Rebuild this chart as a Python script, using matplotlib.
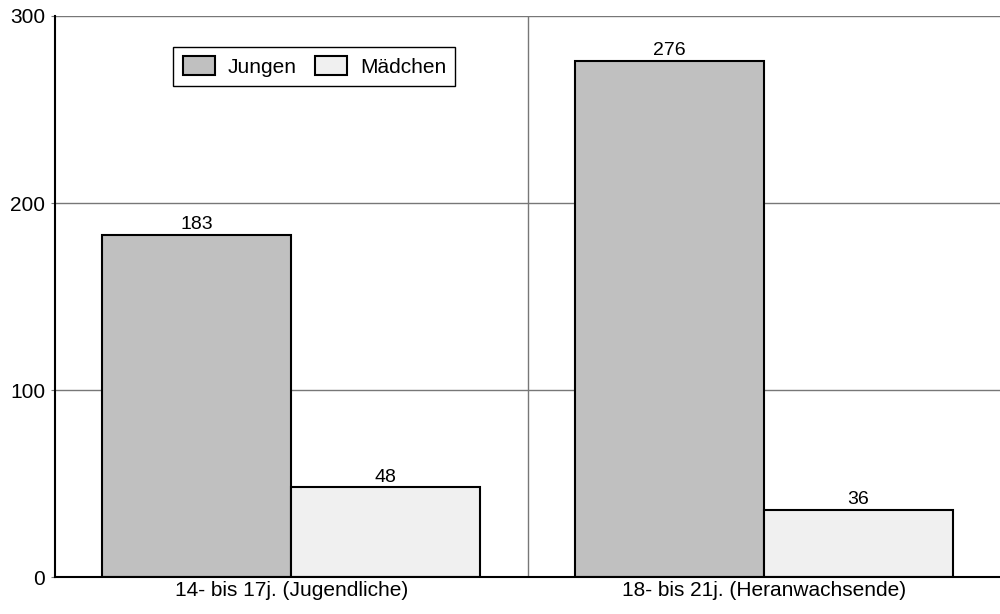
import numpy as np
import matplotlib
matplotlib.use("Agg")
import matplotlib.pyplot as plt

categories = ["14- bis 17j. (Jugendliche)", "18- bis 21j. (Heranwachsende)"]
series_names = ["Jungen", "Mädchen"]
jungen = [183, 276]
maedchen = [48, 36]
y_ticks = [0, 100, 200, 300]

plt.rcParams['font.family'] = ['Liberation Sans', 'DejaVu Sans']

fig = plt.figure(figsize=(10, 6.14), dpi=100)
ax = fig.add_axes([0.055, 0.06, 0.945, 0.914])

x = np.arange(len(categories))
w = 0.4
b1 = ax.bar(x - w / 2, jungen, w, color="#c0c0c0", edgecolor="black", linewidth=1.5,
            label=series_names[0], zorder=3)
b2 = ax.bar(x + w / 2, maedchen, w, color="#f0f0f0", edgecolor="black", linewidth=1.5,
            label=series_names[1], zorder=3)
for bars in (b1, b2):
    ax.bar_label(bars, padding=1, fontsize=14)

ax.set_xlim(-0.5, len(categories) - 0.5)
ax.set_ylim(0, 300)
ax.set_yticks(y_ticks)
ax.set_xticks(x)
ax.set_xticklabels(categories)
ax.tick_params(axis="x", length=0, labelsize=15, pad=3)
ax.tick_params(axis="y", length=3, labelsize=15, pad=4, color="#777777")

ax.yaxis.grid(True, color="#777777", linewidth=1, zorder=0)
for sep in x[:-1] + 0.5:
    ax.axvline(sep, color="#777777", linewidth=1, zorder=0)

for side in ("top", "right"):
    ax.spines[side].set_visible(False)
for side in ("left", "bottom"):
    ax.spines[side].set_linewidth(1.5)
    ax.spines[side].set_zorder(4)

leg = ax.legend(loc="upper left", bbox_to_anchor=(0.125, 0.945), borderaxespad=0,
                ncol=2, fontsize=15, frameon=True, fancybox=False, framealpha=1,
                edgecolor="black", handlelength=1.55, handleheight=1.0,
                columnspacing=0.9, handletextpad=0.6, borderpad=0.45)
leg.get_frame().set_linewidth(1.0)

fig.savefig("out.png", dpi=100)
